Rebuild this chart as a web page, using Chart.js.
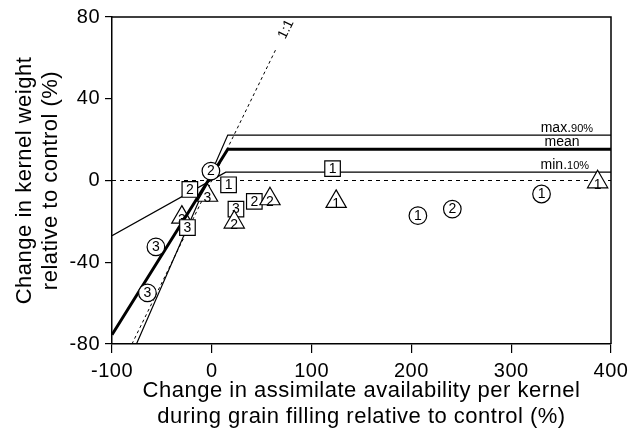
<!DOCTYPE html>
<html><head><meta charset="utf-8">
<script src="https://cdn.jsdelivr.net/npm/chart.js@4/dist/chart.umd.min.js"></script>
<style>html,body{margin:0;padding:0;background:#fff}</style>
</head><body>
<canvas id="c" width="637" height="431"></canvas>
<script>
// ---- data ----
const xTicks = [-100, 0, 100, 200, 300, 400];
const yTicks = [-80, -40, 0, 40, 80];

const circleX = [-0.9, -56, -64.5, 206.5, 241, 330.4];
const circleY = [4.6, -32.5, -55, -17.2, -14, -6.6];
const circleNum = ['2', '3', '3', '1', '2', '1'];

const squareX = [-22, 16.8, -24.4, 24.2, 42.6, 121];
const squareY = [-4.4, -2.1, -23, -14, -10.2, 5.8];
const squareNum = ['2', '1', '3', '3', '2', '1'];

const triX = [-4.3, 22.5, 58.3, 124.6, 386.6];
const triY = [-7.3, -20.4, -9.0, -10.3, -0.7];
const triNum = ['3', '2', '2', '1', '1'];

const triBackX = [-30];
const triBackY = [-18];
const triBackNum = ['3'];

const maxX = [-75.5, 16, 400];
const maxY = [-80, 22.2, 22.2];
const meanX = [-100, 16, 400];
const meanY = [-75.5, 15.3, 15.3];
const minX = [-100, 14, 400];
const minY = [-27, 4.1, 4.1];
const oneX = [-80, 64.5];
const oneY = [-80, 64.5];
const zeroX = [-100, 400];
const zeroY = [0, 0];

const pts = (xs, ys) => xs.map((x, i) => ({x, y: ys[i]}));
const FONT = "'Liberation Sans', Arial, sans-serif";

const markerBase = {type: 'scatter', showLine: false, pointBackgroundColor: '#fff', pointBorderColor: '#000', pointBorderWidth: 1.2, pointHoverRadius: 0};
const lineBase = {type: 'scatter', showLine: true, pointRadius: 0, pointHoverRadius: 0, borderColor: '#000', fill: false, tension: 0};

const datasets = [
  Object.assign({}, markerBase, {data: pts(triX, triY), nums: triNum, pointStyle: 'triangle', pointRadius: 11.7, order: 0, numDy: 3}),
  Object.assign({}, markerBase, {data: pts(squareX, squareY), nums: squareNum, pointStyle: 'rect', pointRadius: 11, order: 1, numDy: 0.5}),
  Object.assign({}, markerBase, {data: pts(circleX, circleY), nums: circleNum, pointStyle: 'circle', pointRadius: 8.8, order: 2, numDy: 0.5}),
  Object.assign({}, lineBase, {data: pts(meanX, meanY), borderWidth: 3, order: 3}),
  Object.assign({}, lineBase, {data: pts(maxX, maxY), borderWidth: 1.2, order: 4}),
  Object.assign({}, lineBase, {data: pts(minX, minY), borderWidth: 1.2, order: 5}),
  Object.assign({}, lineBase, {data: pts(oneX, oneY), borderWidth: 1, borderDash: [3, 3], order: 6}),
  Object.assign({}, lineBase, {data: pts(zeroX, zeroY), borderWidth: 1, borderDash: [4, 4], order: 7}),
  Object.assign({}, markerBase, {data: pts(triBackX, triBackY), nums: triBackNum, pointStyle: 'triangle', pointRadius: 11.7, order: 8, numDy: 3})
];

const spacingPlugin = {
  id: 'spacing',
  beforeDraw(chart) { chart.ctx.letterSpacing = '0.5px'; },
  beforeDatasetsDraw(chart) { chart.ctx.letterSpacing = '0px'; }
};

const numberPlugin = {
  id: 'nums',
  afterDatasetDraw(chart, args) {
    const ds = chart.data.datasets[args.index];
    if (!ds.nums) return;
    const ctx = chart.ctx;
    ctx.save();
    ctx.fillStyle = '#000';
    ctx.font = '14px ' + FONT;
    ctx.textAlign = 'center';
    ctx.textBaseline = 'middle';
    args.meta.data.forEach((el, i) => {
      ctx.fillText(ds.nums[i], el.x, el.y + (ds.numDy || 0));
    });
    ctx.restore();
  }
};

const framePlugin = {
  id: 'frame',
  afterDatasetsDraw(chart) {
    const {ctx, chartArea: a, scales: {x, y}} = chart;
    ctx.save();
    ctx.strokeStyle = '#000';
    ctx.lineWidth = 1.5;
    ctx.beginPath();
    ctx.moveTo(a.left, a.top); ctx.lineTo(a.right, a.top); ctx.lineTo(a.right, a.bottom);
    ctx.stroke();
    // line labels
    ctx.fillStyle = '#000';
    ctx.textBaseline = 'alphabetic';
    function twoPart(big, small, xr, yb) {
      ctx.font = '14px ' + FONT;
      const w1 = ctx.measureText(big).width;
      ctx.font = '11px ' + FONT;
      const w2 = ctx.measureText(small).width;
      const x0 = xr - w1 - w2;
      ctx.textAlign = 'left';
      ctx.font = '14px ' + FONT;
      ctx.fillText(big, x0, yb);
      ctx.font = '11px ' + FONT;
      ctx.fillText(small, x0 + w1, yb);
    }
    twoPart('max.', '90%', x.getPixelForValue(382), y.getPixelForValue(22.2) - 3);
    ctx.font = '14px ' + FONT;
    ctx.textAlign = 'center';
    ctx.fillText('mean', x.getPixelForValue(351), y.getPixelForValue(15.3) - 3);
    twoPart('min.', '10%', x.getPixelForValue(378), y.getPixelForValue(4.1) - 3);
    // 1:1 label
    const px = x.getPixelForValue(74.5), py = y.getPixelForValue(74);
    const ang = Math.atan2(y.getPixelForValue(0) - y.getPixelForValue(1), x.getPixelForValue(1) - x.getPixelForValue(0));
    ctx.translate(px, py);
    ctx.rotate(-ang);
    ctx.font = '14px ' + FONT;
    ctx.textAlign = 'center';
    ctx.textBaseline = 'middle';
    ctx.fillText('1:1', 0, 0);
    ctx.restore();
  }
};

new Chart(document.getElementById('c'), {
  type: 'scatter',
  data: {datasets},
  options: {
    responsive: false,
    animation: false,
    events: [],
    layout: {padding: {top: 17, right: 26, left: 0, bottom: 0}},
    plugins: {legend: {display: false}, tooltip: {enabled: false}},
    scales: {
      x: {
        type: 'linear', min: -100, max: 400,
        afterBuildTicks: s => { s.ticks = xTicks.map(v => ({value: v})); },
        afterFit: s => { s.height = 87; },
        grid: {display: true, drawOnChartArea: false, drawTicks: true, tickLength: 9, color: '#000', lineWidth: 1.2},
        border: {display: true, color: '#000', width: 1.5},
        ticks: {color: '#000', padding: 6, font: {family: FONT, size: 20}, maxRotation: 0},
        title: {display: true, text: ['Change in assimilate availability per kernel', 'during grain filling relative to control (%)'],
          color: '#000', font: {family: FONT, size: 22, lineHeight: '26px'}, padding: {top: 0, bottom: 1}}
      },
      y: {
        type: 'linear', min: -80, max: 80,
        afterBuildTicks: s => { s.ticks = yTicks.map(v => ({value: v})); },
        afterFit: s => { s.width = 112; },
        grid: {display: true, drawOnChartArea: false, drawTicks: true, tickLength: 7, color: '#000', lineWidth: 1.2},
        border: {display: true, color: '#000', width: 1.5},
        ticks: {color: '#000', padding: 5, font: {family: FONT, size: 20}},
        title: {display: true, text: ['Change in kernel weight', 'relative to control (%)'],
          color: '#000', font: {family: FONT, size: 22, lineHeight: '26px'}, padding: {top: 12, bottom: 0}}
      }
    }
  },
  plugins: [spacingPlugin, numberPlugin, framePlugin]
});
</script>
</body></html>
